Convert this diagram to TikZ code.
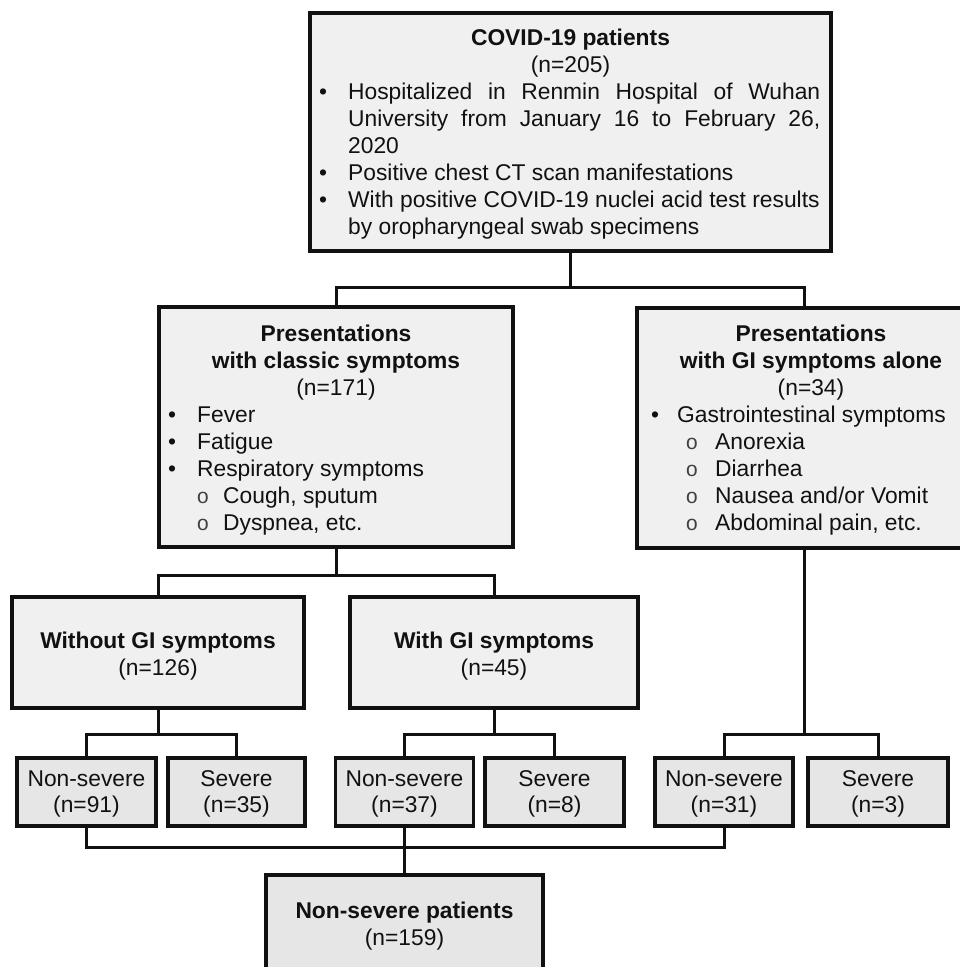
\documentclass[tikz,border=0pt]{standalone}
\usepackage{fontspec}
\setmainfont{Liberation Sans}
\newfontfamily\subofont{Liberation Mono}
\definecolor{bigfill}{HTML}{F0F0F0}
\definecolor{smallfill}{HTML}{E6E6E6}
\definecolor{ink}{HTML}{111111}
\tikzset{
 box/.style={draw=ink, line width=3.2pt, inner sep=0pt, outer sep=0pt, anchor=north west, fill=bigfill},
 sbox/.style={box, fill=smallfill},
 conn/.style={draw=ink, line width=3pt},
 txt/.style={inner sep=0pt, anchor=base, text=ink, font=\fontsize{22.8}{27}\selectfont},
 btxt/.style={txt, font=\fontsize{22.8}{27}\selectfont\bfseries},
 ltxt/.style={txt, anchor=base west},
 subo/.style={txt, text=black!75, font=\subofont\fontsize{21}{21}\selectfont},
}
\begin{document}
\begin{tikzpicture}[x=1pt,y=-1pt]
\useasboundingbox (0,0) rectangle (960,967);
\clip (0,0) rectangle (960,967);
% boxes
\node[box, minimum width=521pt, minimum height=238pt] (top) at (310,13) {};
\node[box, minimum width=354pt, minimum height=240pt] (mid1) at (159,307) {};
\node[box, minimum width=360pt, minimum height=240pt] (mid2) at (637,308) {};
\node[box, minimum width=292pt, minimum height=111pt] (wogi) at (12,597) {};
\node[box, minimum width=288pt, minimum height=111pt] (wgi) at (350,597) {};
\node[sbox, minimum width=139pt, minimum height=68pt] (ns91) at (17,758) {};
\node[sbox, minimum width=137pt, minimum height=68pt] (s35) at (168,758) {};
\node[sbox, minimum width=138pt, minimum height=68pt] (ns37) at (335.5,758) {};
\node[sbox, minimum width=139pt, minimum height=68pt] (s8) at (485,758) {};
\node[sbox, minimum width=138pt, minimum height=68pt] (ns31) at (655,758) {};
\node[sbox, minimum width=140pt, minimum height=68pt] (s3) at (808,758) {};
\node[sbox, minimum width=277pt, minimum height=130pt] (final) at (266,875) {};
% connectors
\coordinate (j1) at (570.5,287);
\coordinate (j1r) at (804.5,287);
\draw[conn] (top.south) -- (j1);
\draw[conn] (mid1.north) |- (j1) -- (j1r) -- (j1r |- mid2.north);
\coordinate (j2) at (336,575);
\draw[conn] (mid1.south) -- (j2);
\draw[conn] (wogi.north) |- (j2) -| (wgi.north);
\coordinate (j3) at (158,734);
\draw[conn] (wogi.south) -- (j3);
\draw[conn] (ns91.north) |- (j3) -| (s35.north);
\coordinate (j4) at (494,734);
\draw[conn] (wgi.south) -- (j4);
\draw[conn] (ns37.north) |- (j4) -| (s8.north);
\coordinate (j6) at (804.5,734);
\draw[conn] (j6 |- mid2.south) -- (j6);
\draw[conn] (ns31.north) |- (j6) -| (s3.north);
\coordinate (j5) at (404.5,847);
\draw[conn] (ns91.south) |- (j5) -| (ns31.south);
\draw[conn] (ns37.south) -- (final.north);
% top box text
\node[btxt] (ta) at (570.5,45) {COVID-19 patients};
\node[txt] (tb) at (570.5,72) {(n=205)};
\node[txt] (tb1) at (323,99) {•};
\node[ltxt] (tc) at (348,99) {\makebox[472pt][s]{Hospitalized in Renmin Hospital of Wuhan}};
\node[ltxt] (td) at (348,126) {\makebox[472pt][s]{University from January 16 to February 26,}};
\node[ltxt] (te) at (348,153) {2020};
\node[txt] (tb2) at (323,180) {•};
\node[ltxt] (tf) at (348,180) {Positive chest CT scan manifestations};
\node[txt] (tb3) at (323,207) {•};
\node[ltxt] (tg) at (348,207) {With positive COVID-19 nuclei acid test results};
\node[ltxt] (th) at (348,234) {by oropharyngeal swab specimens};
% mid1 text
\node[btxt] (ma) at (336,341) {Presentations};
\node[btxt] (mb) at (336,368) {with classic symptoms};
\node[txt] (mc) at (336,395) {(n=171)};
\node[txt] (mb1) at (172,422) {•};
\node[ltxt] (md) at (197,422) {Fever};
\node[txt] (mb2) at (172,449) {•};
\node[ltxt] (me) at (197,449) {Fatigue};
\node[txt] (mb3) at (172,476) {•};
\node[ltxt] (mf) at (197,476) {Respiratory symptoms};
\node[subo] (mo1) at (203,503) {o};
\node[ltxt] (mg) at (223,503) {Cough, sputum};
\node[subo] (mo2) at (203,530) {o};
\node[ltxt] (mh) at (223,530) {Dyspnea, etc.};
% mid2 text
\node[btxt] (ra) at (811,341) {Presentations};
\node[btxt] (rb) at (811,368) {with GI symptoms alone};
\node[txt] (rc) at (811,395) {(n=34)};
\node[txt] (rb1) at (655,422) {•};
\node[ltxt] (rd) at (677,422) {Gastrointestinal symptoms};
\node[subo] (ro1) at (692,449) {o};
\node[ltxt] (re) at (715,449) {Anorexia};
\node[subo] (ro2) at (692,476) {o};
\node[ltxt] (rf) at (715,476) {Diarrhea};
\node[subo] (ro3) at (692,503) {o};
\node[ltxt] (rg) at (715,503) {Nausea and/or Vomit};
\node[subo] (ro4) at (692,530) {o};
\node[ltxt] (rh) at (715,530) {Abdominal pain, etc.};
% second row text
\node[btxt] (wa) at (158,648) {Without GI symptoms};
\node[txt] (wb) at (158,675) {(n=126)};
\node[btxt] (ga) at (494,648) {With GI symptoms};
\node[txt] (gb) at (494,675) {(n=45)};
% small boxes text
\node[txt] (n1a) at (86.5,786) {Non-severe};
\node[txt] (n1b) at (86.5,812) {(n=91)};
\node[txt] (s1a) at (236.5,786) {Severe};
\node[txt] (s1b) at (236.5,812) {(n=35)};
\node[txt] (n2a) at (404.5,786) {Non-severe};
\node[txt] (n2b) at (404.5,812) {(n=37)};
\node[txt] (s2a) at (554.5,786) {Severe};
\node[txt] (s2b) at (554.5,812) {(n=8)};
\node[txt] (n3a) at (724,786) {Non-severe};
\node[txt] (n3b) at (724,812) {(n=31)};
\node[txt] (s3a) at (878,786) {Severe};
\node[txt] (s3b) at (878,812) {(n=3)};
% final box text
\node[btxt] (fa) at (404.5,918) {Non-severe patients};
\node[txt] (fb) at (404.5,945) {(n=159)};
\end{tikzpicture}
\end{document}
